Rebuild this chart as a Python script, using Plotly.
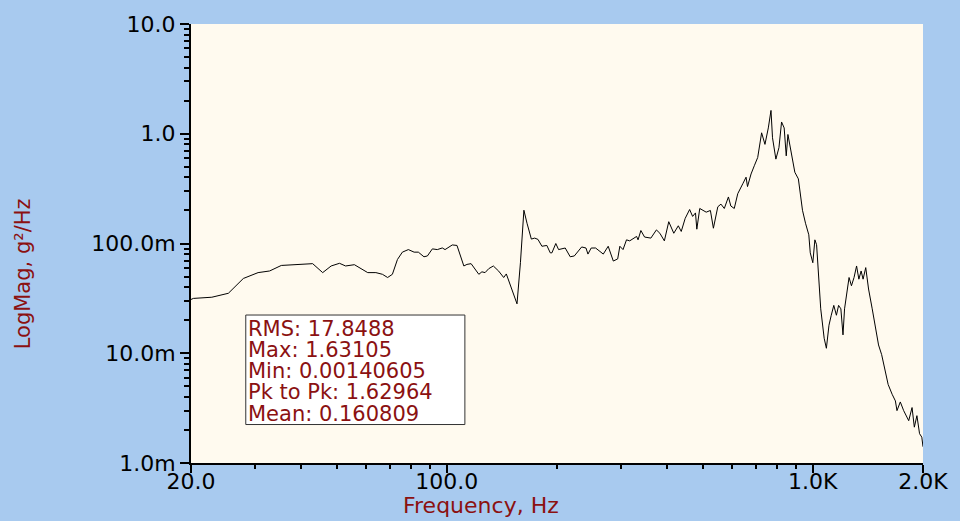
import plotly.graph_objects as go

freq_hz = [20, 20.3, 22.8, 25.3, 27.8, 30.5, 32.8, 35.3, 43.0, 45.8, 48.3, 50.9, 52.9, 55.9,
           60.8, 64.0, 66.7, 68.9, 71.0, 73.3, 75.6, 78.5, 81.4, 83.6, 86.6, 88.5, 91.3, 94.2,
           97.2, 98.9, 103.5, 106.6, 111.3, 113.5, 116.5, 122.3, 124.7, 127.2, 130.2, 134.0,
           138.6, 143.0, 145.4, 150.1, 155.5, 158.9, 162.4, 165.6, 170.2, 173.8, 177.4, 181.9,
           187.6, 191.7, 193.7, 198.5, 202, 210.6, 217.3, 223, 233.6, 240, 243, 248, 255, 267.6,
           276, 285, 293, 297, 303, 309.7, 316, 330, 333, 339, 347, 361, 373.8, 382, 393, 404,
           417, 429, 437, 448, 460.7, 469.5, 478, 482, 491, 511.3, 525, 535, 550, 561, 573, 588,
           597, 610, 623.6, 643.6, 657, 663, 678, 692, 707, 724.6, 740, 755.8, 768.6, 776, 792.6,
           808, 821.5, 835, 846, 855, 869, 893, 913, 937, 955, 975, 984, 1000, 1013, 1024, 1051,
           1074, 1089, 1107, 1123, 1141, 1160, 1176, 1193, 1209, 1221, 1233, 1256, 1275, 1296,
           1317, 1336, 1355, 1372, 1395, 1420, 1453, 1482, 1512, 1542, 1573, 1606, 1647, 1681,
           1698, 1734, 1771, 1828, 1867, 1894, 1925, 1957, 1985, 2000]
psd_g2hz = [0.0309, 0.0316, 0.0324, 0.0352, 0.048, 0.0543, 0.0562, 0.0631, 0.0655, 0.0543,
            0.0624, 0.066, 0.0624, 0.0641, 0.0543, 0.0543, 0.0524, 0.049, 0.0524, 0.0715, 0.0834,
            0.088, 0.0834, 0.0834, 0.0757, 0.077, 0.0893, 0.088, 0.0911, 0.088, 0.097, 0.096,
            0.0624, 0.0645, 0.0655, 0.0524, 0.0552, 0.0543, 0.059, 0.0624, 0.056, 0.049, 0.0528,
            0.0398, 0.0282, 0.0668, 0.201, 0.153, 0.1097, 0.112, 0.109, 0.0944, 0.096, 0.0822,
            0.0822, 0.1, 0.088, 0.091, 0.0757, 0.077, 0.093, 0.091, 0.0801, 0.091, 0.091, 0.0801,
            0.0944, 0.0692, 0.0724, 0.0944, 0.088, 0.108, 0.1057, 0.116, 0.108, 0.1313, 0.1145,
            0.112, 0.133, 0.124, 0.1057, 0.158, 0.124, 0.145, 0.1288, 0.1695, 0.204, 0.1765, 0.19,
            0.135, 0.2085, 0.193, 0.2, 0.1378, 0.216, 0.2285, 0.2085, 0.2655, 0.2195, 0.2085,
            0.2843, 0.35, 0.402, 0.33, 0.43, 0.511, 0.608, 1.02, 0.8, 1.13, 1.63105, 0.919, 0.587,
            0.747, 1.28, 1.13, 0.629, 0.985, 0.747, 0.446, 0.388, 0.201, 0.153, 0.12, 0.0822,
            0.0668, 0.108, 0.0975, 0.0254, 0.0137, 0.0111, 0.018, 0.0222, 0.0273, 0.0222, 0.0273,
            0.0254, 0.0147, 0.0254, 0.0313, 0.049, 0.0412, 0.049, 0.0624, 0.0473, 0.0562, 0.0473,
            0.0603, 0.0385, 0.0254, 0.0168, 0.0119, 0.0097, 0.00686, 0.0052, 0.00423, 0.00368,
            0.003, 0.0036, 0.003, 0.00243, 0.0032, 0.00212, 0.0027, 0.00185, 0.00172, 0.00140605]

x_tick_vals = [20, 100, 1000, 2000]
x_tick_text = ["20.0", "100.0", "1.0K", "2.0K"]
x_minor_vals = [30, 40, 50, 60, 70, 80, 90, 200, 300, 400, 500, 600, 700, 800, 900]
y_tick_vals = [0.001, 0.01, 0.1, 1, 10]
y_tick_text = ["1.0m", "10.0m", "100.0m", "1.0", "10.0"]
y_minor_vals = [m * 10 ** e for e in (-3, -2, -1, 0) for m in range(2, 10)]

stats_lines = ["RMS: 17.8488", "Max: 1.63105", "Min: 0.00140605",
               "Pk to Pk: 1.62964", "Mean: 0.160809"]

RED = "#8B1111"
FONT = "DejaVu Sans"

fig = go.Figure(go.Scatter(x=freq_hz, y=psd_g2hz, mode="lines",
                           line=dict(color="black", width=1), hoverinfo="skip"))

fig.update_layout(
    width=960, height=521,
    margin=dict(l=191, r=34, t=18, b=58),
    paper_bgcolor="#A8CAEF", plot_bgcolor="#FFFAEF",
    showlegend=False,
    font=dict(family=FONT, size=22, color="black"),
)
fig.update_xaxes(type="log", range=[1.30103, 3.30103], tickvals=x_tick_vals, ticktext=x_tick_text,
                 ticks="outside", ticklen=8, tickwidth=1.5, tickcolor="black",
                 ticklabelstandoff=-10,
                 showline=True, linecolor="black", linewidth=2, showgrid=False, zeroline=False,
                 minor=dict(tickvals=x_minor_vals, ticks="outside", ticklen=4, tickwidth=1.5,
                            tickcolor="black", showgrid=False),
                 tickfont=dict(family=FONT, size=22, color="black"))
fig.update_yaxes(type="log", range=[-3, 1], tickvals=y_tick_vals, ticktext=y_tick_text,
                 ticks="outside", ticklen=9, tickwidth=1.5, tickcolor="black",
                 showline=True, linecolor="black", linewidth=2, showgrid=False, zeroline=False,
                 minor=dict(tickvals=y_minor_vals, ticks="outside", ticklen=5, tickwidth=1.5,
                            tickcolor="black", showgrid=False),
                 tickfont=dict(family=FONT, size=22, color="black"))

# axis titles (placed as annotations to match offset positions)
fig.add_annotation(text="Frequency, Hz", xref="paper", yref="paper",
                   x=(482 - 191) / 735, y=(463 - 506) / 445, xanchor="center", yanchor="middle",
                   showarrow=False, font=dict(family=FONT, size=22, color=RED))
fig.add_annotation(text="LogMag, g²/Hz", xref="paper", yref="paper", textangle=-90,
                   x=(22 - 191) / 735, y=(463 - 271) / 445, xanchor="center", yanchor="middle",
                   showarrow=False, font=dict(family=FONT, size=21, color=RED))

# stats box
fig.add_shape(type="rect", xref="paper", yref="paper",
              x0=(246 - 191) / 735, x1=(466 - 191) / 735,
              y0=(463 - 424) / 445, y1=(463 - 313) / 445,
              fillcolor="white", line=dict(color="#333333", width=1), layer="above")
line_centers = [327, 348.5, 370, 391.5, 413]
for txt, yc in zip(stats_lines, line_centers):
    fig.add_annotation(text=txt, xref="paper", yref="paper", borderpad=0,
                       x=(247 - 191) / 735, y=(463 - yc) / 445, xanchor="left", yanchor="middle",
                       showarrow=False, font=dict(family=FONT, size=21, color=RED))

fig.write_html("out.html", config={"displayModeBar": False},
               post_script="document.body.style.margin='0';document.body.style.overflow='hidden';")
